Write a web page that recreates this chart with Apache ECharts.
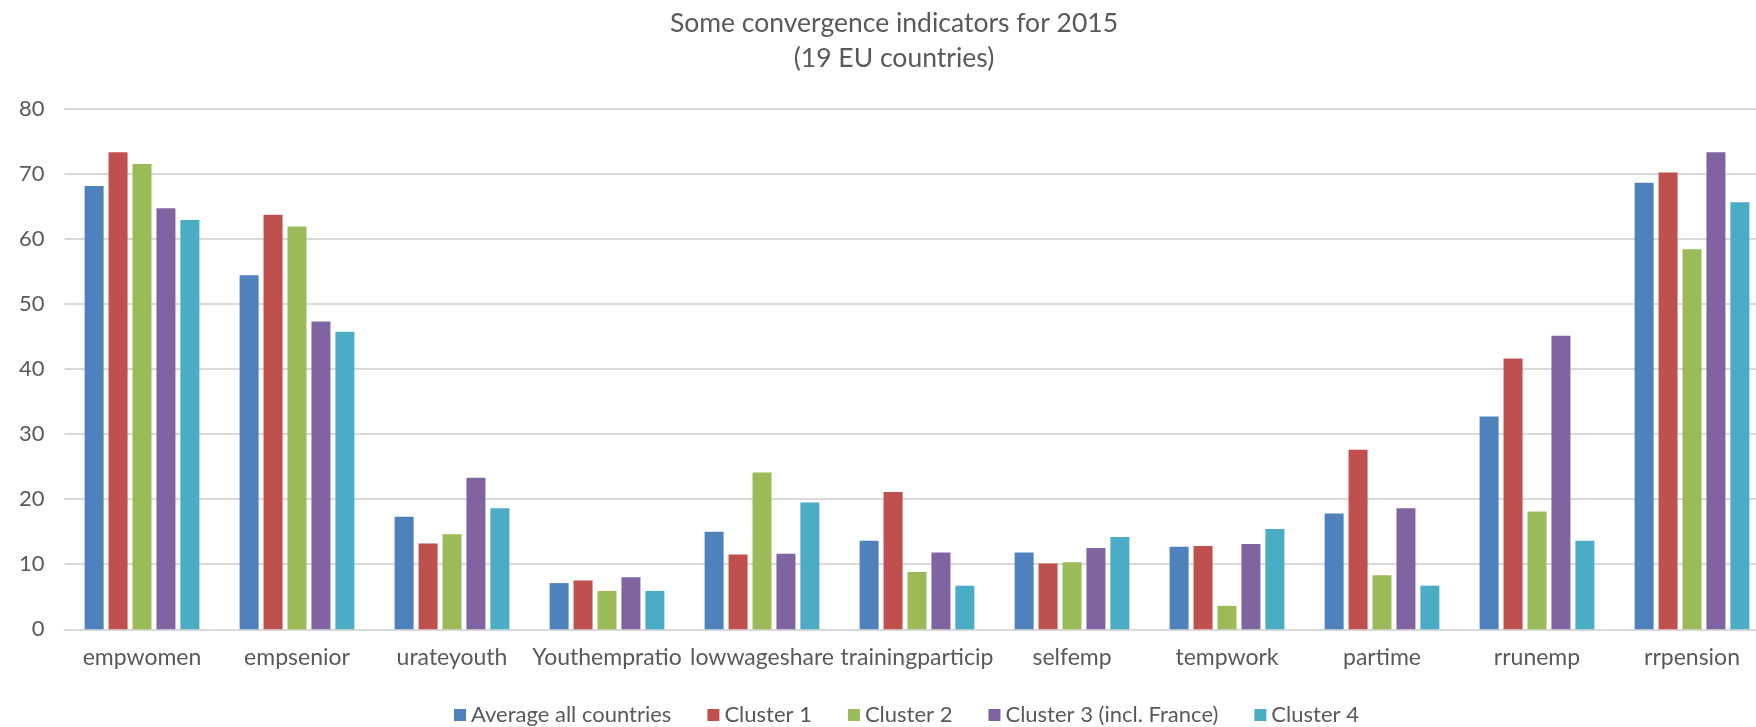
<!DOCTYPE html>
<html>
<head>
<meta charset="utf-8">
<title>Some convergence indicators for 2015</title>
<script src="https://cdn.jsdelivr.net/npm/echarts@6/dist/echarts.min.js"></script>
<style>
  html, body { margin: 0; padding: 0; background: #fff; }
  #main { width: 1756px; height: 727px; }
</style>
</head>
<body>
<div id="main"></div>
<script>
// indicators on the x axis
var categories = ['empwomen', 'empsenior', 'urateyouth', 'Youthempratio', 'lowwageshare',
    'trainingparticip', 'selfemp', 'tempwork', 'partime', 'rrunemp', 'rrpension'];

// values
var avgAll   = [68.1, 54.4, 17.3, 7.1, 15.0, 13.6, 11.8, 12.7, 17.8, 32.7, 68.6];
var cluster1 = [73.3, 63.7, 13.2, 7.5, 11.5, 21.1, 10.1, 12.8, 27.6, 41.6, 70.2];
var cluster2 = [71.5, 61.9, 14.6, 5.9, 24.1, 8.8, 10.3, 3.6, 8.3, 18.1, 58.4];
var cluster3 = [64.7, 47.3, 23.3, 8.0, 11.6, 11.8, 12.5, 13.1, 18.6, 45.1, 73.3];
var cluster4 = [62.9, 45.7, 18.6, 5.9, 19.5, 6.7, 14.2, 15.4, 6.7, 13.6, 65.6];

var seriesNames = ['Average all countries', 'Cluster 1', 'Cluster 2', 'Cluster 3 (incl. France)', 'Cluster 4'];
var seriesData = [avgAll, cluster1, cluster2, cluster3, cluster4];
var colors = ['#4F81BD', '#C0504D', '#9BBB59', '#8064A2', '#4BACC6'];

var textColor = '#595959';
var gridColor = '#D9D9D9';
var fontFam = 'Lato';

var myChart = echarts.init(document.getElementById('main'));

var series = seriesNames.map(function (name, i) {
    return {
        name: name,
        type: 'bar',
        data: seriesData[i],
        barWidth: 19,
        barGap: '26%',
        itemStyle: { color: colors[i] },
        emphasis: { disabled: true }
    };
});

var option = {
    animation: false,
    color: colors,
    title: {
        text: 'Some convergence indicators for 2015\n(19 EU countries)',
        left: 889,
        top: 1,
        textAlign: 'center',
        textStyle: {
            fontFamily: fontFam,
            fontWeight: 'normal',
            fontSize: 26.5,
            lineHeight: 35,
            color: textColor
        }
    },
    legend: {
        data: seriesNames,
        left: 449,
        top: 699,
        icon: 'rect',
        itemWidth: 12,
        itemHeight: 12,
        itemGap: 36,
        textStyle: { fontFamily: fontFam, fontSize: 22, color: textColor }
    },
    grid: {
        left: 64.5,
        top: 108.6,
        bottom: 97.7,
        width: 1705,
        outerBoundsMode: 'none'
    },
    xAxis: {
        type: 'category',
        data: categories,
        axisTick: { show: false },
        axisLine: { lineStyle: { color: gridColor, width: 2 } },
        axisLabel: { margin: 17, interval: 0, fontFamily: fontFam, fontSize: 23, color: textColor }
    },
    yAxis: {
        type: 'value',
        min: 0,
        max: 80,
        interval: 10,
        axisLine: { show: false },
        axisTick: { show: false },
        splitLine: { lineStyle: { color: gridColor, width: 2 } },
        axisLabel: { margin: 20, fontFamily: fontFam, fontSize: 22, color: textColor }
    },
    series: series
};

myChart.setOption(option);
</script>
</body>
</html>
